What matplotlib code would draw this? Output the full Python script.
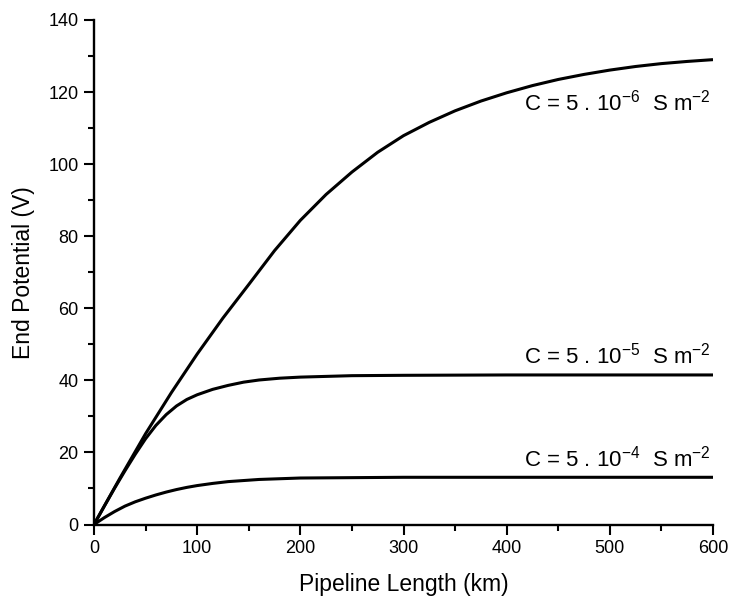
import matplotlib
matplotlib.use("Agg")
import matplotlib.pyplot as plt
from matplotlib.ticker import MultipleLocator

plt.rcParams['font.family'] = ['Liberation Sans', 'DejaVu Sans']
plt.rcParams['mathtext.fontset'] = 'custom'
plt.rcParams['mathtext.rm'] = 'Liberation Sans'
plt.rcParams['mathtext.default'] = 'regular'

# Data
x_c5e6 = [0, 25, 50, 75, 100, 125, 150, 175, 200, 225, 250, 275, 300, 325,
          350, 375, 400, 425, 450, 475, 500, 525, 550, 575, 600]
v_c5e6 = [0, 12.8, 25.2, 36.6, 47.3, 57.3, 66.6, 76.0, 84.4, 91.6, 97.8, 103.3, 107.9, 111.6,
          114.8, 117.5, 119.8, 121.8, 123.5, 124.9, 126.1, 127.1, 127.9, 128.5, 129.0]

x_c5e5 = [0, 10, 20, 30, 40, 50, 60, 70, 80, 90, 100, 115, 130, 145, 160, 180,
          200, 225, 250, 300, 400, 500, 600]
v_c5e5 = [0, 5.1, 10.1, 14.9, 19.5, 23.8, 27.5, 30.5, 32.9, 34.7, 36.0, 37.5, 38.6, 39.5,
          40.1, 40.6, 40.9, 41.1, 41.3, 41.4, 41.5, 41.5, 41.5]

x_c5e4 = [0, 10, 20, 30, 40, 50, 60, 70, 80, 90, 100, 115, 130, 145, 160, 180,
          200, 250, 300, 400, 500, 600]
v_c5e4 = [0, 1.9, 3.6, 5.1, 6.3, 7.3, 8.2, 9.0, 9.7, 10.3, 10.8, 11.4, 11.9, 12.2,
          12.5, 12.7, 12.9, 13.0, 13.1, 13.1, 13.1, 13.1]

labels = [r"C = 5 . 10$^{-6}$  S m$^{-2}$",
          r"C = 5 . 10$^{-5}$  S m$^{-2}$",
          r"C = 5 . 10$^{-4}$  S m$^{-2}$"]
label_y = [114.8, 44.7, 16.0]

fig = plt.figure(figsize=(7.30, 5.99), dpi=100)
ax = fig.add_axes([94/730, 1-524.5/599, (713-94)/730, (524.5-20)/599])

for xs, v in ((x_c5e6, v_c5e6), (x_c5e5, v_c5e5), (x_c5e4, v_c5e4)):
    ax.plot(xs, v, color='black', lw=2.2, solid_capstyle='butt', solid_joinstyle='round')

for txt, y in zip(labels, label_y):
    ax.text(598, y, txt, ha='right', va='baseline', fontsize=16)

ax.set_xlim(0, 600)
ax.set_ylim(0, 140)
ax.xaxis.set_major_locator(MultipleLocator(100))
ax.xaxis.set_minor_locator(MultipleLocator(50))
ax.yaxis.set_major_locator(MultipleLocator(20))
ax.yaxis.set_minor_locator(MultipleLocator(10))

for s in ('top', 'right'):
    ax.spines[s].set_visible(False)
for s in ('left', 'bottom'):
    ax.spines[s].set_linewidth(1.7)

ax.tick_params(which='major', direction='out', length=7.5, width=1.5, labelsize=13, pad=3.5)
ax.tick_params(which='minor', direction='out', length=4, width=1.5)

ax.set_xlabel('Pipeline Length (km)', fontsize=16.5, labelpad=12)
ax.set_ylabel('End Potential (V)', fontsize=16.5, labelpad=10)

fig.savefig('out.png', dpi=100)
